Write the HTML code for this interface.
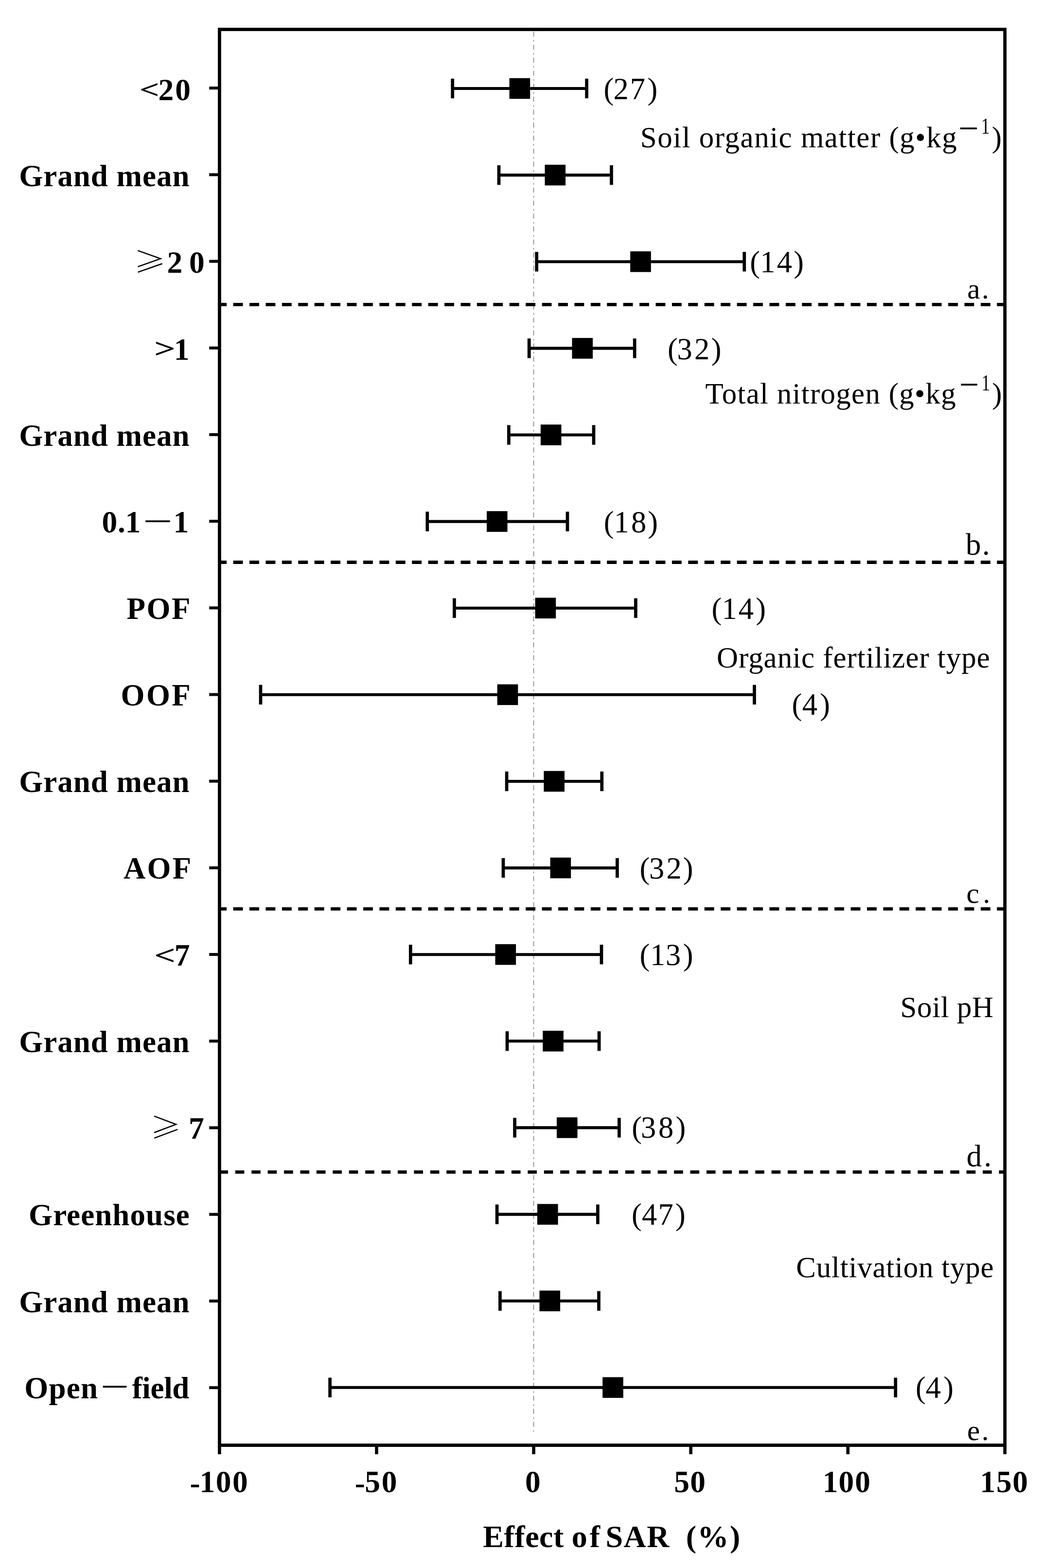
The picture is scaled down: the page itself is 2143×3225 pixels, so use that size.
<!DOCTYPE html>
<html lang="en">
<head>
<meta charset="utf-8">
<title>Effect of SAR (%) - forest plot</title>
<style>
html,body{margin:0;padding:0;background:#fff;}
body{width:2143px;height:3225px;overflow:hidden;}
svg{display:block;}
text{font-family:"Liberation Serif","Noto Serif CJK SC",serif;fill:#000;font-weight:normal;}
text.b{font-weight:bold;}
text.c{font-family:"Noto Serif CJK SC","Liberation Serif",serif;}
.k{stroke:#000;fill:none;}
.m{fill:#000;}
</style>
</head>
<body>
<svg width="2143" height="3225" viewBox="0 0 2143 3225" role="img">
<rect width="2143" height="3225" fill="#fff"/>

<!-- zero reference line -->
<line x1="1097.5" y1="65.3" x2="1097.5" y2="2944.6" stroke="#8e8e8e" stroke-width="1.8" stroke-dasharray="10.2 7.1 3.2 6.22"/>
<!-- plot frame -->
<rect class="k" x="451.4" y="60.5" width="1615.3" height="2912" stroke-width="6.8"/>
<!-- x axis ticks and tick labels -->
<g class="xt"><line class="k" x1="451.4" y1="2972" x2="451.4" y2="2991" stroke-width="6.6"/><text class="b" x="390.6 410.6 443.7 478.1" y="3071.3 3068.9 3068.9 3068.9" font-size="63.5">-100</text></g>
<g class="xt"><line class="k" x1="774.5" y1="2972" x2="774.5" y2="2991" stroke-width="6.6"/><text class="b" x="729.8 750.2 784.7" y="3071.3 3068.9 3068.9" font-size="63.5">-50</text></g>
<g class="xt"><line class="k" x1="1097.6" y1="2972" x2="1097.6" y2="2991" stroke-width="6.6"/><text class="b" x="1080.0" y="3068.9" font-size="63.5">0</text></g>
<g class="xt"><line class="k" x1="1420.7" y1="2972" x2="1420.7" y2="2991" stroke-width="6.6"/><text class="b" x="1386.2 1419.2" y="3068.9" font-size="63.5">50</text></g>
<g class="xt"><line class="k" x1="1743.8" y1="2972" x2="1743.8" y2="2991" stroke-width="6.6"/><text class="b" x="1691.7 1724.5 1758.2" y="3068.9" font-size="63.5">100</text></g>
<g class="xt"><line class="k" x1="2066.7" y1="2972" x2="2066.7" y2="2991" stroke-width="6.6"/><text class="b" x="2015.6 2048.9 2082.3" y="3068.9" font-size="63.5">150</text></g>
<!-- section separators -->
<line class="k" x1="448" y1="626.4" x2="2066" y2="626.4" stroke-width="6.8" stroke-dasharray="19.9 13.52" stroke-dashoffset="1.8"/>
<line class="k" x1="448" y1="1156.5" x2="2066" y2="1156.5" stroke-width="6.8" stroke-dasharray="19.9 13.52" stroke-dashoffset="1.8"/>
<line class="k" x1="448" y1="1869.4" x2="2066" y2="1869.4" stroke-width="6.8" stroke-dasharray="19.9 13.52" stroke-dashoffset="1.8"/>
<line class="k" x1="450.4" y1="2410.7" x2="2066" y2="2410.7" stroke-width="6.8" stroke-dasharray="18.6 14.82" stroke-dashoffset="0"/>
<!-- rows: tick, label, confidence interval, mean marker, sample count -->
<g class="row"><line class="k" x1="430.2" y1="181.1" x2="450" y2="181.1" stroke-width="6"/><g class="lab"><text class="b" transform="translate(286.71,201.58) scale(1.1261,0.8257)" font-size="64.0">&lt;</text><text class="b" x="325.6" y="205.6" font-size="63.5" style="letter-spacing:2.88px" xml:space="preserve">20</text></g><line class="k" x1="930.7" y1="182.0" x2="1206.6" y2="182.0" stroke-width="6.1"/><line class="k" x1="930.7" y1="161.8" x2="930.7" y2="202.2" stroke-width="6.7"/><line class="k" x1="1206.6" y1="161.8" x2="1206.6" y2="202.2" stroke-width="6.7"/><rect class="m" x="1047.6" y="160.7" width="42.6" height="42.6"/><text class="r" x="1241.5 1261.6 1295.8 1331.4" y="203.7" font-size="62.5">(27)</text></g>
<g class="row"><line class="k" x1="430.2" y1="359.3" x2="450" y2="359.3" stroke-width="6"/><text class="b" x="39.2" y="383.0" font-size="63.0" style="letter-spacing:1.02px" xml:space="preserve">Grand mean</text><line class="k" x1="1026.0" y1="360.1" x2="1257.5" y2="360.1" stroke-width="6.1"/><line class="k" x1="1026.0" y1="339.9" x2="1026.0" y2="380.3" stroke-width="6.7"/><line class="k" x1="1257.5" y1="339.9" x2="1257.5" y2="380.3" stroke-width="6.7"/><rect class="m" x="1120.5" y="338.8" width="42.6" height="42.6"/></g>
<g class="row"><line class="k" x1="430.2" y1="537.5" x2="450" y2="537.5" stroke-width="6"/><g class="lab"><text class="c" transform="translate(274.70,560.01) scale(1.0464,0.9129)" font-size="64.0">≥</text><text class="b" x="343.6 388.9" y="560.8" font-size="63.5">20</text></g><line class="k" x1="1103.7" y1="538.2" x2="1530.8" y2="538.2" stroke-width="6.1"/><line class="k" x1="1103.7" y1="518.0" x2="1103.7" y2="558.4" stroke-width="6.7"/><line class="k" x1="1530.8" y1="518.0" x2="1530.8" y2="558.4" stroke-width="6.7"/><rect class="m" x="1296.2" y="516.9" width="42.6" height="42.6"/><text class="r" x="1542.3 1563.3 1597.7 1632.3" y="560.3" font-size="62.5">(14)</text></g>
<g class="row"><line class="k" x1="430.2" y1="715.7" x2="450" y2="715.7" stroke-width="6"/><g class="lab"><text class="b" transform="translate(317.07,736.39) scale(1.2101,0.8849)" font-size="64.0">&gt;</text><text class="b" x="357.8" y="739.8" font-size="63.5">1</text></g><line class="k" x1="1088.2" y1="716.4" x2="1305.2" y2="716.4" stroke-width="6.1"/><line class="k" x1="1088.2" y1="696.2" x2="1088.2" y2="736.6" stroke-width="6.7"/><line class="k" x1="1305.2" y1="696.2" x2="1305.2" y2="736.6" stroke-width="6.7"/><rect class="m" x="1176.5" y="695.1" width="42.6" height="42.6"/><text class="r" x="1373.1 1392.4 1428.0 1462.8" y="738.5" font-size="62.5">(32)</text></g>
<g class="row"><line class="k" x1="430.2" y1="893.9" x2="450" y2="893.9" stroke-width="6"/><text class="b" x="39.2" y="917.0" font-size="63.0" style="letter-spacing:1.02px" xml:space="preserve">Grand mean</text><line class="k" x1="1046.4" y1="894.5" x2="1221.0" y2="894.5" stroke-width="6.1"/><line class="k" x1="1046.4" y1="874.3" x2="1046.4" y2="914.7" stroke-width="6.7"/><line class="k" x1="1221.0" y1="874.3" x2="1221.0" y2="914.7" stroke-width="6.7"/><rect class="m" x="1111.9" y="873.2" width="42.6" height="42.6"/></g>
<g class="row"><line class="k" x1="430.2" y1="1072.1" x2="450" y2="1072.1" stroke-width="6"/><g class="lab"><text class="b" x="209.6 241.9 257.5" y="1095.3" font-size="63.5">0.1</text><text class="c" transform="translate(291.23,1103.40) scale(1.0382,1.3139)" font-size="64.0">－</text><text class="b" x="356.5" y="1095.3" font-size="63.5">1</text></g><line class="k" x1="878.8" y1="1072.6" x2="1167.0" y2="1072.6" stroke-width="6.1"/><line class="k" x1="878.8" y1="1052.4" x2="878.8" y2="1092.8" stroke-width="6.7"/><line class="k" x1="1167.0" y1="1052.4" x2="1167.0" y2="1092.8" stroke-width="6.7"/><rect class="m" x="1001.0" y="1051.3" width="42.6" height="42.6"/><text class="r" x="1241.7 1262.4 1298.0 1332.2" y="1094.9" font-size="62.5">(18)</text></g>
<g class="row"><line class="k" x1="430.2" y1="1250.3" x2="450" y2="1250.3" stroke-width="6"/><text class="b" x="260.5" y="1273.0" font-size="63.0" style="letter-spacing:2.51px" xml:space="preserve">POF</text><line class="k" x1="934.4" y1="1250.7" x2="1307.4" y2="1250.7" stroke-width="6.1"/><line class="k" x1="934.4" y1="1230.5" x2="934.4" y2="1270.9" stroke-width="6.7"/><line class="k" x1="1307.4" y1="1230.5" x2="1307.4" y2="1270.9" stroke-width="6.7"/><rect class="m" x="1100.6" y="1229.4" width="42.6" height="42.6"/><text class="r" x="1463.4 1484.4 1518.7 1554.3" y="1272.6" font-size="62.5">(14)</text></g>
<g class="row"><line class="k" x1="430.2" y1="1428.5" x2="450" y2="1428.5" stroke-width="6"/><text class="b" x="248.6" y="1451.0" font-size="63.0" style="letter-spacing:3.30px" xml:space="preserve">OOF</text><line class="k" x1="536.0" y1="1428.8" x2="1551.5" y2="1428.8" stroke-width="6.1"/><line class="k" x1="536.0" y1="1408.6" x2="536.0" y2="1449.0" stroke-width="6.7"/><line class="k" x1="1551.5" y1="1408.6" x2="1551.5" y2="1449.0" stroke-width="6.7"/><rect class="m" x="1022.7" y="1407.5" width="42.6" height="42.6"/><text class="r" x="1628.6 1649.7 1686.2" y="1470.0" font-size="62.5">(4)</text></g>
<g class="row"><line class="k" x1="430.2" y1="1606.7" x2="450" y2="1606.7" stroke-width="6"/><text class="b" x="39.2" y="1629.3" font-size="63.0" style="letter-spacing:1.02px" xml:space="preserve">Grand mean</text><line class="k" x1="1042.1" y1="1607.0" x2="1237.8" y2="1607.0" stroke-width="6.1"/><line class="k" x1="1042.1" y1="1586.8" x2="1042.1" y2="1627.2" stroke-width="6.7"/><line class="k" x1="1237.8" y1="1586.8" x2="1237.8" y2="1627.2" stroke-width="6.7"/><rect class="m" x="1118.4" y="1585.7" width="42.6" height="42.6"/></g>
<g class="row"><line class="k" x1="430.2" y1="1784.9" x2="450" y2="1784.9" stroke-width="6"/><text class="b" x="254.0" y="1807.2" font-size="63.0" style="letter-spacing:3.12px" xml:space="preserve">AOF</text><line class="k" x1="1035.0" y1="1785.1" x2="1269.4" y2="1785.1" stroke-width="6.1"/><line class="k" x1="1035.0" y1="1764.9" x2="1035.0" y2="1805.3" stroke-width="6.7"/><line class="k" x1="1269.4" y1="1764.9" x2="1269.4" y2="1805.3" stroke-width="6.7"/><rect class="m" x="1131.6" y="1763.8" width="42.6" height="42.6"/><text class="r" x="1315.4 1335.0 1370.6 1404.8" y="1806.6" font-size="62.5">(32)</text></g>
<g class="row"><line class="k" x1="430.2" y1="1963.1" x2="450" y2="1963.1" stroke-width="6"/><g class="lab"><text class="b" transform="translate(317.04,1984.32) scale(1.2101,0.8911)" font-size="64.0">&lt;</text><text class="b" x="358.7" y="1986.0" font-size="63.5">7</text></g><line class="k" x1="844.3" y1="1963.2" x2="1237.0" y2="1963.2" stroke-width="6.1"/><line class="k" x1="844.3" y1="1943.0" x2="844.3" y2="1983.4" stroke-width="6.7"/><line class="k" x1="1237.0" y1="1943.0" x2="1237.0" y2="1983.4" stroke-width="6.7"/><rect class="m" x="1018.5" y="1941.9" width="42.6" height="42.6"/><text class="r" x="1315.4 1336.9 1369.1 1404.8" y="1985.2" font-size="62.5">(13)</text></g>
<g class="row"><line class="k" x1="430.2" y1="2141.3" x2="450" y2="2141.3" stroke-width="6"/><text class="b" x="39.2" y="2164.0" font-size="63.0" style="letter-spacing:1.02px" xml:space="preserve">Grand mean</text><line class="k" x1="1043.0" y1="2141.3" x2="1232.1" y2="2141.3" stroke-width="6.1"/><line class="k" x1="1043.0" y1="2121.1" x2="1043.0" y2="2161.5" stroke-width="6.7"/><line class="k" x1="1232.1" y1="2121.1" x2="1232.1" y2="2161.5" stroke-width="6.7"/><rect class="m" x="1116.3" y="2120.0" width="42.6" height="42.6"/></g>
<g class="row"><line class="k" x1="430.2" y1="2319.5" x2="450" y2="2319.5" stroke-width="6"/><g class="lab"><text class="c" transform="translate(308.74,2341.29) scale(1.0017,0.9285)" font-size="64.0">≥</text><text class="b" x="387.9" y="2342.1" font-size="63.5">7</text></g><line class="k" x1="1058.6" y1="2319.4" x2="1273.4" y2="2319.4" stroke-width="6.1"/><line class="k" x1="1058.6" y1="2299.2" x2="1058.6" y2="2339.6" stroke-width="6.7"/><line class="k" x1="1273.4" y1="2299.2" x2="1273.4" y2="2339.6" stroke-width="6.7"/><rect class="m" x="1145.0" y="2298.1" width="42.6" height="42.6"/><text class="r" x="1299.2 1317.9 1354.0 1389.5" y="2340.3" font-size="62.5">(38)</text></g>
<g class="row"><line class="k" x1="430.2" y1="2497.7" x2="450" y2="2497.7" stroke-width="6"/><text class="b" x="59.1" y="2519.5" font-size="63.0" style="letter-spacing:1.09px" xml:space="preserve">Greenhouse</text><line class="k" x1="1022.1" y1="2497.6" x2="1229.4" y2="2497.6" stroke-width="6.1"/><line class="k" x1="1022.1" y1="2477.4" x2="1022.1" y2="2517.8" stroke-width="6.7"/><line class="k" x1="1229.4" y1="2477.4" x2="1229.4" y2="2517.8" stroke-width="6.7"/><rect class="m" x="1105.0" y="2476.3" width="42.6" height="42.6"/><text class="r" x="1299.1 1320.0 1353.6 1388.9" y="2518.9" font-size="62.5">(47)</text></g>
<g class="row"><line class="k" x1="430.2" y1="2675.9" x2="450" y2="2675.9" stroke-width="6"/><text class="b" x="39.2" y="2698.8" font-size="63.0" style="letter-spacing:1.02px" xml:space="preserve">Grand mean</text><line class="k" x1="1028.4" y1="2675.7" x2="1231.5" y2="2675.7" stroke-width="6.1"/><line class="k" x1="1028.4" y1="2655.5" x2="1028.4" y2="2695.9" stroke-width="6.7"/><line class="k" x1="1231.5" y1="2655.5" x2="1231.5" y2="2695.9" stroke-width="6.7"/><rect class="m" x="1109.5" y="2654.4" width="42.6" height="42.6"/></g>
<g class="row"><line class="k" x1="430.2" y1="2854.1" x2="450" y2="2854.1" stroke-width="6"/><g class="lab"><text class="b" x="50.3" y="2875.7" font-size="63.0" style="letter-spacing:1.20px" xml:space="preserve">Open</text><text class="c" transform="translate(204.11,2883.10) scale(1.0012,1.3139)" font-size="64.0">－</text><text class="b" x="271.7" y="2875.7" font-size="63.0" style="letter-spacing:-0.33px" xml:space="preserve">field</text></g><line class="k" x1="678.6" y1="2853.8" x2="1841.8" y2="2853.8" stroke-width="6.1"/><line class="k" x1="678.6" y1="2833.6" x2="678.6" y2="2874.0" stroke-width="6.7"/><line class="k" x1="1841.8" y1="2833.6" x2="1841.8" y2="2874.0" stroke-width="6.7"/><rect class="m" x="1239.2" y="2832.5" width="42.6" height="42.6"/><text class="r" x="1883.0 1903.8 1940.3" y="2874.8" font-size="62.5">(4)</text></g>
<!-- section titles -->
<g class="ttl"><text class="r" x="1316.8" y="302.9" font-size="61.0" style="letter-spacing:1.50px" xml:space="preserve">Soil organic matter (g•kg</text><text class="r" transform="translate(1971.33,289.12) scale(1.5683,1.5806)" font-size="47">−</text><text class="r" transform="translate(2017.65,275.10) scale(0.7615,0.9959)" font-size="47">1</text><text class="r" x="2039.7" y="302.9" font-size="61.0">)</text></g>
<g class="ttl"><text class="r" x="1450.5" y="830.3" font-size="61.0" style="letter-spacing:1.26px" xml:space="preserve">Total nitrogen (g•kg</text><text class="r" transform="translate(1972.91,815.72) scale(1.5317,1.5806)" font-size="47">−</text><text class="r" transform="translate(2018.83,802.80) scale(0.7434,0.9798)" font-size="47">1</text><text class="r" x="2040.3" y="830.3" font-size="61.0">)</text></g>
<text class="r" x="1474.0" y="1372.9" font-size="61.0" style="letter-spacing:0.95px" xml:space="preserve">Organic fertilizer type</text>
<text class="r" x="1851.6" y="2092.3" font-size="61.0" style="letter-spacing:0.56px" xml:space="preserve">Soil pH</text>
<text class="r" x="1637.3" y="2626.6" font-size="61.0" style="letter-spacing:0.77px" xml:space="preserve">Cultivation type</text>
<!-- panel letters -->
<text class="r" x="1989.3 2019.1" y="613.6" font-size="59.5">a.</text>
<text class="r" x="1986.1 2019.9" y="1141.3" font-size="63.0">b.</text>
<text class="r" x="1987.5 2021.6" y="1857.1" font-size="59.5">c.</text>
<text class="r" x="1987.7 2023.4" y="2398.5" font-size="63.0">d.</text>
<text class="r" x="1989.0 2018.7" y="2961.6" font-size="59.5">e.</text>
<!-- x axis title -->
<text class="b" y="3181.6" font-size="64"><tspan x="993.3" style="letter-spacing:0.51px">Effect</tspan> <tspan x="1175.7" style="letter-spacing:5.10px">of</tspan> <tspan x="1245.5" style="letter-spacing:1.51px">SAR</tspan> <tspan x="1410.7" style="letter-spacing:2.45px">(%)</tspan></text>
</svg>
</body>
</html>
